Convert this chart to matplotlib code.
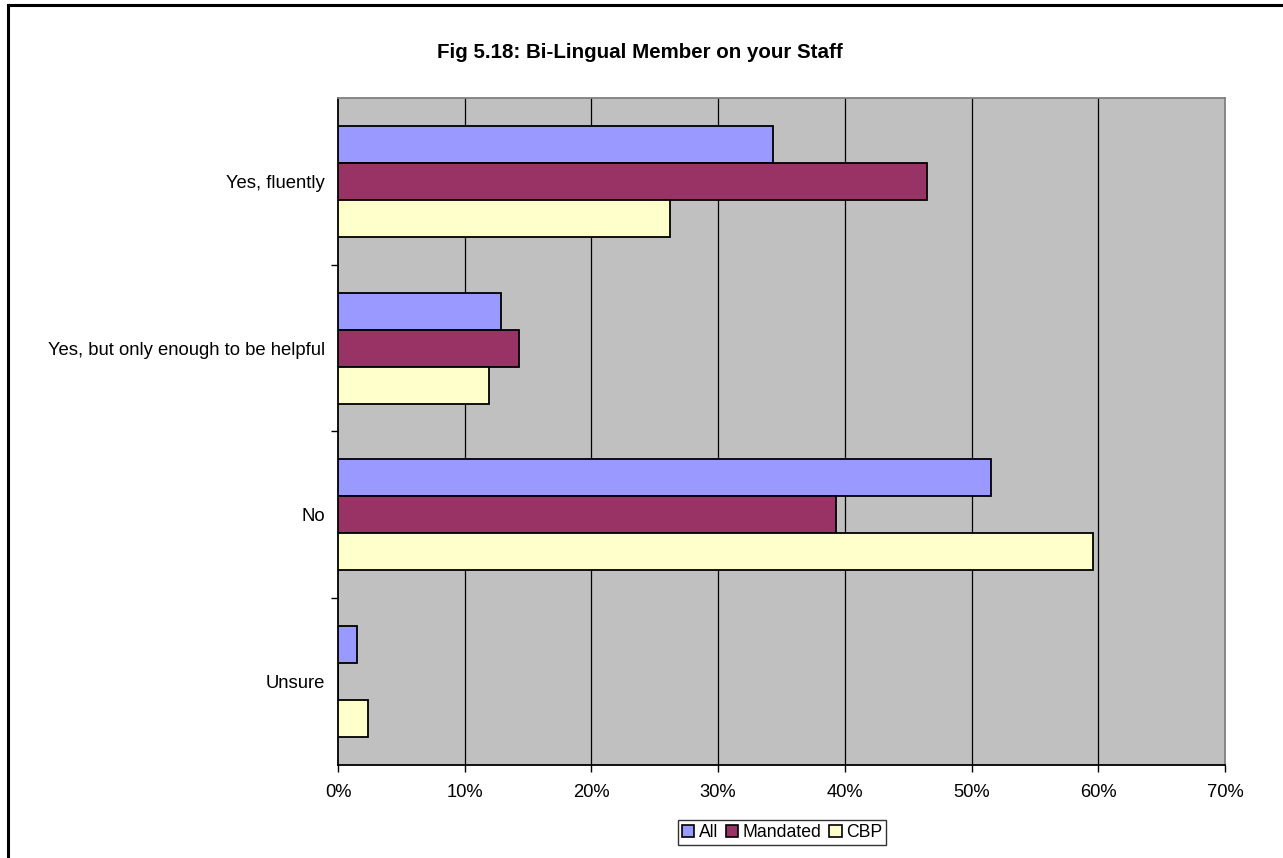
import matplotlib
matplotlib.use("Agg")
import matplotlib.pyplot as plt
from matplotlib.lines import Line2D
from matplotlib.patches import Patch
import numpy as np

plt.rcParams['font.family'] = ['Liberation Sans', 'DejaVu Sans']

categories = ["Yes, fluently", "Yes, but only enough to be helpful", "No", "Unsure"]
series_names = ["All", "Mandated", "CBP"]
all_vals = [34.3, 12.9, 51.5, 1.5]
mandated_vals = [46.5, 14.3, 39.3, 0.0]
cbp_vals = [26.2, 11.9, 59.6, 2.4]
xticks = [0, 10, 20, 30, 40, 50, 60, 70]
xtick_labels = ["0%", "10%", "20%", "30%", "40%", "50%", "60%", "70%"]
colors = ["#9999FF", "#993366", "#FFFFCC"]
title = "Fig 5.18: Bi-Lingual Member on your Staff"

W, H = 1283, 858
fig = plt.figure(figsize=(W / 100, H / 100), dpi=100)
ax = fig.add_axes([338 / W, 1 - 765 / H, (1225 - 338) / W, (765 - 98) / H])
ax.set_facecolor("#C0C0C0")

y = np.arange(len(categories))
h = 0.222
for i, (vals, c) in enumerate(zip([all_vals, mandated_vals, cbp_vals], colors)):
    ax.barh(y + (i - 1) * h, vals, height=h, color=c, edgecolor="black",
            linewidth=1.3, zorder=3)

ax.set_xlim(0, 70)
ax.set_ylim(3.5, -0.5)
ax.set_xticks(xticks)
ax.set_xticklabels(xtick_labels, fontsize=13.2)
ax.set_yticks(y)
ax.set_yticklabels(categories, fontsize=13.3)
ax.set_yticks([0.5, 1.5, 2.5], minor=True)
ax.tick_params(axis='y', which='major', length=0, pad=9.5)
ax.tick_params(axis='y', which='minor', length=5, width=1, direction='out', color='black')
ax.tick_params(axis='x', which='major', length=5, width=1, direction='out', pad=8.5, color='black')

for xv in xticks[1:-1]:
    ax.axvline(xv, color="black", linewidth=0.9, zorder=1)

ax.spines['left'].set_color('black')
ax.spines['bottom'].set_color('black')
ax.spines['top'].set_color('#808080')
ax.spines['right'].set_color('#808080')
for s in ax.spines.values():
    s.set_linewidth(1.3)

fig.text(640 / W, 1 - 52 / H, title, ha='center', va='center', fontsize=14.8,
         fontweight='bold')

handles = [Patch(facecolor=c, edgecolor='black', linewidth=1.2) for c in colors]
leg = fig.legend(handles, series_names, loc='center', bbox_to_anchor=(782 / W, 1 - 832.5 / H),
                 ncol=3, fontsize=12.7, frameon=True, fancybox=False,
                 handlelength=0.7, handleheight=0.7, handletextpad=0.25,
                 columnspacing=0.45, borderpad=0.22, borderaxespad=0)
leg.get_frame().set_edgecolor('black')
leg.get_frame().set_linewidth(1.0)

# outer chart border (only left and top visible)
fig.add_artist(Line2D([8 / W, 8 / W], [0, 1 - 5 / H], color='black', linewidth=2.2,
                      transform=fig.transFigure))
fig.add_artist(Line2D([8 / W, 1], [1 - 5 / H, 1 - 5 / H], color='black', linewidth=2.2,
                      transform=fig.transFigure))

fig.savefig("out.png", dpi=100)
